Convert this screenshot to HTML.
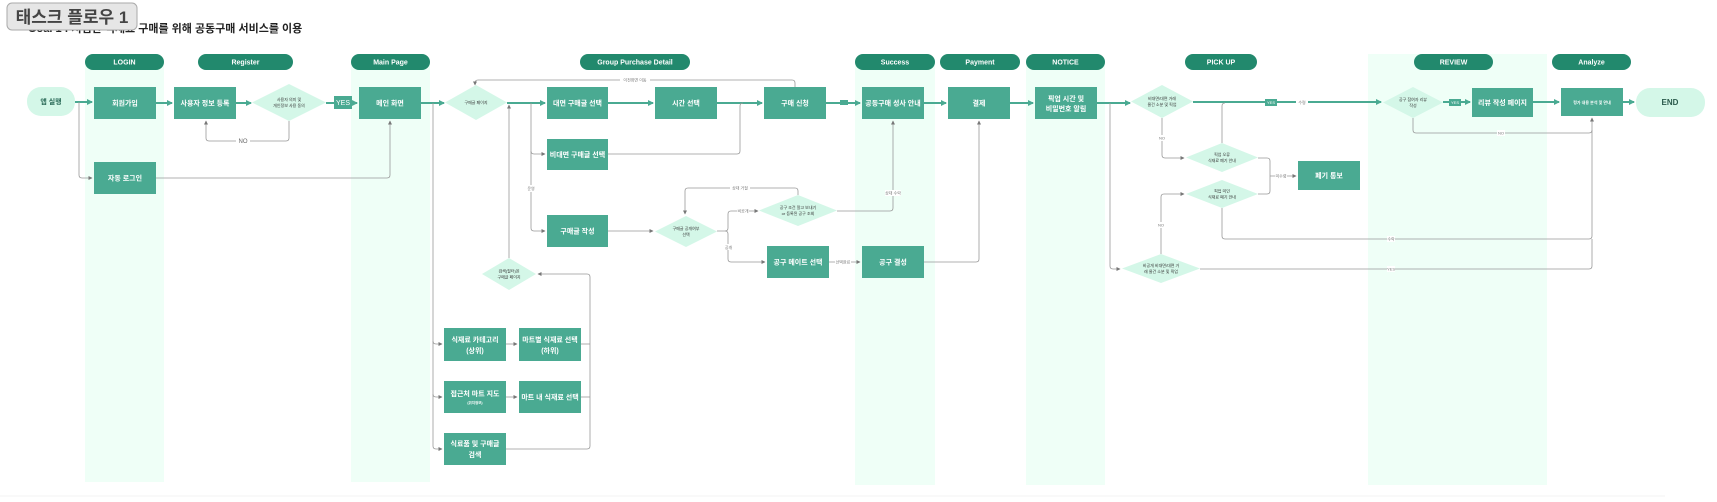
<!DOCTYPE html>
<html><head><meta charset="utf-8">
<style>
html,body{margin:0;padding:0;background:#fff;width:1717px;height:502px;overflow:hidden}
svg{display:block}
text{font-family:"Liberation Sans","Noto Sans CJK KR",sans-serif}
.b{fill:#4aaa92}
.bt{fill:#fff;font-size:7px;font-weight:bold;text-anchor:middle}
.d{fill:#d4f7e8}
.dt{fill:#333;font-size:4px;text-anchor:middle}
.h{fill:#22896d}
.ht{fill:#fff;font-size:7px;font-weight:bold;text-anchor:middle}
.lane{fill:#effff7}
.m{stroke:#4aaa92;stroke-width:2;fill:none}
.g{stroke:#999;stroke-width:0.8;fill:none}
.lb{fill:#777;font-size:4px;text-anchor:middle}
</style></head><body>
<svg width="1717" height="502" viewBox="0 0 1717 502">
<defs>
<marker id="a" markerWidth="6" markerHeight="6" refX="5" refY="3" orient="auto" markerUnits="userSpaceOnUse"><path d="M0,0 L6,3 L0,6z" fill="#4aaa92"/></marker>
<marker id="s" markerWidth="4" markerHeight="4" refX="3.5" refY="2" orient="auto" markerUnits="userSpaceOnUse"><path d="M0,0 L4,2 L0,4z" fill="#777"/></marker>
</defs>
<!-- lanes -->
<rect class="lane" x="85" y="62" width="79" height="420"/>
<rect class="lane" x="351" y="62" width="79" height="420"/>
<rect class="lane" x="855" y="62" width="80" height="423"/>
<rect class="lane" x="1026" y="62" width="79" height="423"/>
<rect class="lane" x="1368" y="54" width="179" height="431"/>
<line x1="0" y1="496" x2="1665" y2="496" stroke="#f3f3f3" stroke-width="1"/>
<!-- headers -->
<rect class="h" x="85" y="54" width="79" height="16" rx="8"/><text class="ht" x="124.5" y="64.5">LOGIN</text>
<rect class="h" x="198" y="54" width="95" height="16" rx="8"/><text class="ht" x="245.5" y="64.5">Register</text>
<rect class="h" x="351" y="54" width="79" height="16" rx="8"/><text class="ht" x="390.5" y="64.5">Main Page</text>
<rect class="h" x="580" y="54" width="110" height="16" rx="8"/><text class="ht" x="635" y="64.5">Group Purchase Detail</text>
<rect class="h" x="855" y="54" width="80" height="16" rx="8"/><text class="ht" x="895" y="64.5">Success</text>
<rect class="h" x="940" y="54" width="80" height="16" rx="8"/><text class="ht" x="980" y="64.5">Payment</text>
<rect class="h" x="1026" y="54" width="79" height="16" rx="8"/><text class="ht" x="1065.5" y="64.5">NOTICE</text>
<rect class="h" x="1185" y="54" width="72" height="16" rx="8"/><text class="ht" x="1221" y="64.5">PICK UP</text>
<rect class="h" x="1414" y="54" width="79" height="16" rx="8"/><text class="ht" x="1453.5" y="64.5">REVIEW</text>
<rect class="h" x="1552" y="54" width="79" height="16" rx="8"/><text class="ht" x="1591.5" y="64.5">Analyze</text>
<!-- subtitle & badge -->
<text x="28" y="32" font-size="11" font-weight="bold" fill="#222">Goal 1 : 저렴한 식재료 구매를 위해 공동구매 서비스를 이용</text>
<rect x="7" y="3" width="130" height="27" rx="5" fill="#e6e6e6" stroke="#aaa" stroke-width="1"/>
<text x="72" y="23" font-size="17" font-weight="bold" fill="#444" text-anchor="middle">태스크 플로우 1</text>

<!-- main thick lines -->
<path class="m" d="M75,102 H92" marker-end="url(#a)"/>
<path class="m" d="M156,103 H172" marker-end="url(#a)"/>
<path class="m" d="M236,103 H251" marker-end="url(#a)"/>
<path class="m" d="M326,103 H357" marker-end="url(#a)"/>
<path class="m" d="M421,103 H444" marker-end="url(#a)"/>
<path class="m" d="M507,103 H545" marker-end="url(#a)"/>
<path class="m" d="M608,103 H653" marker-end="url(#a)"/>
<path class="m" d="M717,103 H762" marker-end="url(#a)"/>
<path class="m" d="M826,103 H860" marker-end="url(#a)"/>
<path class="m" d="M924,103 H946" marker-end="url(#a)"/>
<path class="m" d="M1010,103 H1033" marker-end="url(#a)"/>
<path class="m" d="M1097,103 H1130" marker-end="url(#a)"/>
<path class="m" d="M1193,102 H1381" marker-end="url(#a)"/>
<path class="m" d="M1443,102 H1470" marker-end="url(#a)"/>
<path class="m" d="M1533,102 H1559" marker-end="url(#a)"/>
<path class="m" d="M1623,102 H1634" marker-end="url(#a)"/>
<!-- tags -->
<rect x="334" y="96" width="18" height="13" fill="#4aaa92"/><text x="343" y="105" font-size="7" fill="#fff" text-anchor="middle">YES</text>
<rect x="840" y="100" width="8" height="5" fill="#4aaa92"/>
<rect x="1265" y="99" width="12" height="7" fill="#4aaa92"/><text x="1271" y="104" font-size="4" fill="#fff" text-anchor="middle">YES</text>
<rect x="1449" y="99" width="12" height="7" fill="#4aaa92"/><text x="1455" y="104" font-size="4" fill="#fff" text-anchor="middle">YES</text>
<rect x="1296" y="100" width="12" height="5" fill="#fff"/><text class="lb" x="1302" y="104">수령</text>

<!-- gray connectors -->
<path class="g" d="M79,102 V175 Q79,178 82,178 H92" marker-end="url(#s)"/>
<path class="g" d="M156,178 H387 Q390,178 390,175 V121" marker-end="url(#s)"/>
<path class="g" d="M289,121 V138 Q289,141 286,141 H209 Q206,141 206,138 V121" marker-end="url(#s)"/>
<rect x="236" y="138" width="14" height="6" fill="#fff"/><text x="243" y="143" font-size="6" fill="#666" text-anchor="middle">NO</text>
<path class="g" d="M795,87 V83 Q795,80 792,80 H478 Q475,80 475,83 V85" marker-end="url(#s)"/>
<rect x="620" y="77" width="30" height="6" fill="#fff"/><text class="lb" x="635" y="81.5">이전화면 이동</text>
<path class="g" d="M531,103 V228 Q531,231 534,231 H545" marker-end="url(#s)"/>
<path class="g" d="M531,151 Q531,154 534,154 H545" marker-end="url(#s)"/>
<rect x="528" y="185" width="6" height="7" fill="#fff"/><text class="lb" x="531" y="190">운영</text>
<path class="g" d="M608,154 H737 Q740,154 740,151 V106 Q740,103 743,103"/>
<path class="g" d="M509,258 V105" marker-end="url(#s)"/>
<path class="g" d="M433,103 V446 Q433,449 436,449 H442" marker-end="url(#s)"/>
<path class="g" d="M433,341 Q433,344 436,344 H442" marker-end="url(#s)"/>
<path class="g" d="M433,394 Q433,397 436,397 H442" marker-end="url(#s)"/>
<path class="g" d="M506,344 H517" marker-end="url(#s)"/>
<path class="g" d="M506,397 H517" marker-end="url(#s)"/>
<path class="g" d="M506,449 H587 Q590,449 590,446 V277 Q590,274 587,274 H538" marker-end="url(#s)"/>
<path class="g" d="M581,344 H590"/><path class="g" d="M581,397 H590"/>
<path class="g" d="M608,231 H653" marker-end="url(#s)"/>
<path class="g" d="M717,231 H725 Q728,231 728,228 V214 Q728,211 731,211 H758" marker-end="url(#s)"/>
<rect x="737" y="208" width="12" height="6" fill="#fff"/><text class="lb" x="743" y="212.5">비공개</text>
<path class="g" d="M725,231 Q728,231 728,234 V259 Q728,262 731,262 H765" marker-end="url(#s)"/>
<rect x="725" y="244" width="7" height="6" fill="#fff"/><text class="lb" x="728.5" y="249">공개</text>
<path class="g" d="M798,195 V191 Q798,188 795,188 H688 Q685,188 685,191 V214" marker-end="url(#s)"/>
<rect x="730" y="185" width="20" height="6" fill="#fff"/><text class="lb" x="740" y="189.5">상대 거절</text>
<path class="g" d="M837,211 H890 Q893,211 893,208 V121" marker-end="url(#s)"/>
<rect x="885" y="190" width="16" height="6" fill="#fff"/><text class="lb" x="893" y="194.5">상대 수락</text>
<path class="g" d="M829,262 H860" marker-end="url(#s)"/>
<rect x="835" y="259" width="16" height="6" fill="#fff"/><text class="lb" x="843" y="263.5">선택완료</text>
<path class="g" d="M924,262 H976 Q979,262 979,259 V121" marker-end="url(#s)"/>
<path class="g" d="M1110,103 V266 Q1110,269 1113,269 H1120" marker-end="url(#s)"/>
<path class="g" d="M1162,118 V155 Q1162,158 1165,158 H1184" marker-end="url(#s)"/>
<rect x="1158" y="135" width="8" height="6" fill="#fff"/><text class="lb" x="1162" y="139.5">NO</text>
<path class="g" d="M1161,254 V197 Q1161,194 1164,194 H1184" marker-end="url(#s)"/>
<rect x="1157" y="222" width="8" height="6" fill="#fff"/><text class="lb" x="1161" y="226.5">NO</text>
<path class="g" d="M1258,158 H1267 Q1270,158 1270,161 V191 Q1270,194 1267,194 H1258"/>
<path class="g" d="M1270,176 H1296" marker-end="url(#s)"/>
<rect x="1275" y="173" width="12" height="6" fill="#fff"/><text class="lb" x="1281" y="177.5">미수령</text>
<path class="g" d="M1222,143 V106 Q1222,103 1225,103"/>
<path class="g" d="M1222,208 V236 Q1222,239 1225,239 H1589 Q1592,239 1592,236 V118" marker-end="url(#s)"/>
<rect x="1387" y="236" width="8" height="6" fill="#fff"/><text class="lb" x="1391" y="240.5">수락</text>
<path class="g" d="M1200,269 H1589 Q1592,269 1592,266 V239"/>
<rect x="1387" y="266" width="8" height="6" fill="#fff"/><text class="lb" x="1391" y="270.5">YES</text>
<path class="g" d="M1413,118 V130 Q1413,133 1416,133 H1589 Q1592,133 1592,130"/>
<rect x="1497" y="130" width="8" height="6" fill="#fff"/><text class="lb" x="1501" y="134.5">NO</text>

<!-- pills -->
<rect x="27" y="87" width="48" height="29" rx="14" fill="#d4f7e8"/><text x="51" y="104" font-size="7" font-weight="bold" fill="#2b6a58" text-anchor="middle">앱 실행</text>
<rect x="1636" y="88" width="69" height="29" rx="14" fill="#d4f7e8"/><text x="1670" y="105" font-size="8" font-weight="bold" fill="#2b5a4c" text-anchor="middle">END</text>

<!-- boxes -->
<g>
<rect class="b" x="94" y="87" width="62" height="32"/><text class="bt" x="125" y="105.5">회원가입</text>
<rect class="b" x="174" y="87" width="62" height="32"/><text class="bt" x="205" y="105.5">사용자 정보 등록</text>
<rect class="b" x="359" y="87" width="62" height="32"/><text class="bt" x="390" y="105.5">메인 화면</text>
<rect class="b" x="94" y="162" width="62" height="32"/><text class="bt" x="125" y="180.5">자동 로그인</text>
<rect class="b" x="547" y="87" width="61" height="32"/><text class="bt" x="577.5" y="105.5">대면 구매글 선택</text>
<rect class="b" x="655" y="87" width="62" height="32"/><text class="bt" x="686" y="105.5">시간 선택</text>
<rect class="b" x="764" y="87" width="62" height="32"/><text class="bt" x="795" y="105.5">구매 신청</text>
<rect class="b" x="547" y="139" width="61" height="31"/><text class="bt" x="577.5" y="157">비대면 구매글 선택</text>
<rect class="b" x="547" y="215" width="61" height="32"/><text class="bt" x="577.5" y="233.5">구매글 작성</text>
<rect class="b" x="767" y="246" width="62" height="32"/><text class="bt" x="798" y="264.5">공구 메이트 선택</text>
<rect class="b" x="862" y="87" width="62" height="32"/><text class="bt" x="893" y="105.5">공동구매 성사 안내</text>
<rect class="b" x="948" y="87" width="62" height="32"/><text class="bt" x="979" y="105.5">결제</text>
<rect class="b" x="1035" y="87" width="62" height="32"/><text class="bt" x="1066" y="101">픽업 시간 및</text><text class="bt" x="1066" y="111">비밀번호 알림</text>
<rect class="b" x="862" y="246" width="62" height="32"/><text class="bt" x="893" y="264.5">공구 결성</text>
<rect class="b" x="1298" y="161" width="62" height="29"/><text class="bt" x="1329" y="178">폐기 통보</text>
<rect class="b" x="1472" y="88" width="61" height="29"/><text class="bt" x="1502.5" y="105">리뷰 작성 페이지</text>
<rect class="b" x="1561" y="88" width="62" height="28"/><text class="bt" x="1592" y="104" style="font-size:4px">평가 내용 분석 및 안내</text>
<rect class="b" x="444" y="328" width="62" height="33"/><text class="bt" x="475" y="342">식재료 카테고리</text><text class="bt" x="475" y="353">(상위)</text>
<rect class="b" x="519" y="328" width="62" height="33"/><text class="bt" x="550" y="342">마트별 식재료 선택</text><text class="bt" x="550" y="353">(하위)</text>
<rect class="b" x="444" y="381" width="62" height="32"/><text class="bt" x="475" y="396">접근처 마트 지도</text><text class="bt" x="475" y="404" style="font-size:3.5px">(위치정보)</text>
<rect class="b" x="519" y="381" width="62" height="32"/><text class="bt" x="550" y="399.5">마트 내 식재료 선택</text>
<rect class="b" x="444" y="433" width="62" height="32"/><text class="bt" x="475" y="446">식료품 및 구매글</text><text class="bt" x="475" y="457">검색</text>
</g>

<!-- diamonds -->
<polygon class="d" points="289,84 326,102.5 289,121 252,102.5"/><text class="dt" x="289" y="101">사용자 의미 및</text><text class="dt" x="289" y="107">개인정보 사용 동의</text>
<polygon class="d" points="476,85 507,102.5 476,120 445,102.5"/><text class="dt" x="476" y="104">구매글 페이지</text>
<polygon class="d" points="686,216 717,231.5 686,247 655,231.5"/><text class="dt" x="686" y="230">구매글 공개여부</text><text class="dt" x="686" y="236">선택</text>
<polygon class="d" points="798,195 837,210.5 798,226 759,210.5"/><text class="dt" x="798" y="209">공구 조건 알고 보내기</text><text class="dt" x="798" y="215">or 등록된 공구 조회</text>
<polygon class="d" points="509,258 536,274 509,290 482,274"/><text class="dt" x="509" y="272.5">검색(필터)된</text><text class="dt" x="509" y="278.5">구매글 페이지</text>
<polygon class="d" points="1162,85 1193,101.5 1162,118 1131,101.5"/><text class="dt" x="1162" y="100">비대면/대면 거래</text><text class="dt" x="1162" y="106">물건 소분 및 픽업</text>
<polygon class="d" points="1222,143 1258,157.5 1222,172 1186,157.5"/><text class="dt" x="1222" y="156">픽업 오류</text><text class="dt" x="1222" y="162">식재료 폐기 안내</text>
<polygon class="d" points="1222,180 1258,194 1222,208 1186,194"/><text class="dt" x="1222" y="192.5">픽업 미인</text><text class="dt" x="1222" y="198.5">식재료 폐기 안내</text>
<polygon class="d" points="1161,254 1200,268.5 1161,283 1122,268.5"/><text class="dt" x="1161" y="267">비공개 비대면/대면 거</text><text class="dt" x="1161" y="273">래 물건 소분 및 픽업</text>
<polygon class="d" points="1413,87 1443,102.5 1413,118 1383,102.5"/><text class="dt" x="1413" y="101">공구 참여자 리뷰</text><text class="dt" x="1413" y="107">작성</text>
</svg>
</body></html>
